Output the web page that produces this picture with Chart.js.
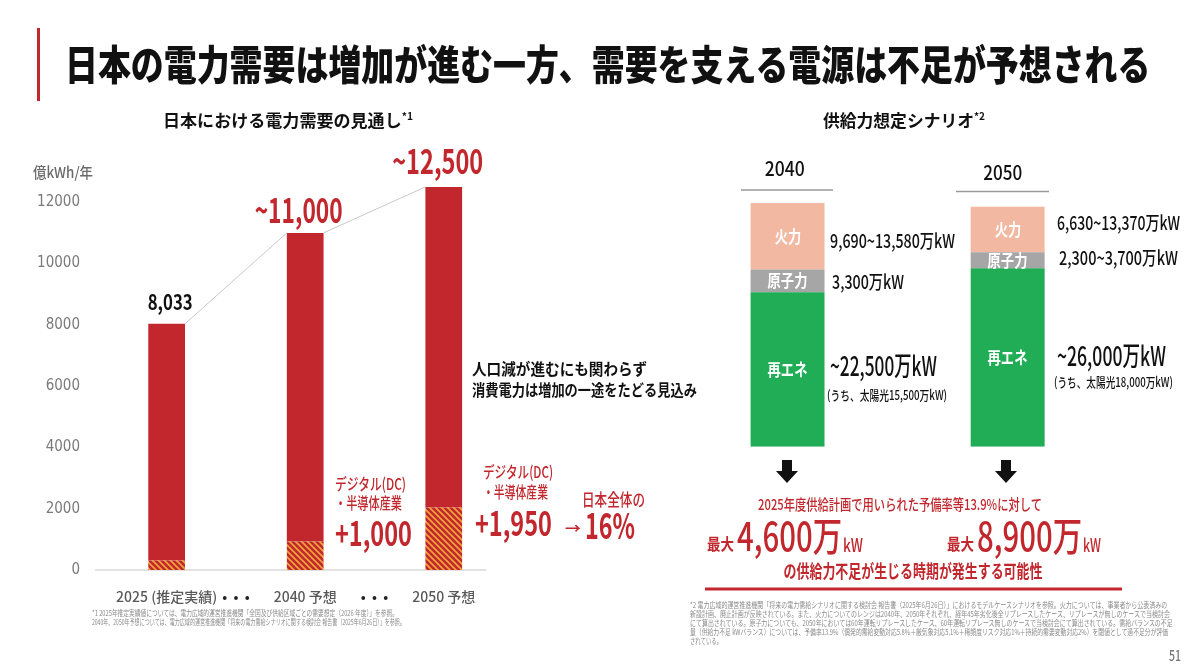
<!DOCTYPE html>
<html lang="ja"><head><meta charset="utf-8">
<script src="https://cdn.jsdelivr.net/npm/chart.js@4.4.1/dist/chart.umd.min.js"></script>
<style>
html,body{margin:0;padding:0;background:#fff;}
body{width:1200px;height:672px;position:relative;overflow:hidden;font-family:'Noto Sans CJK JP','Noto Sans',sans-serif;}
.t{position:absolute;white-space:nowrap;line-height:1;}
canvas{position:absolute;}
.sup{font-size:0.6em;vertical-align:0.65em;}
</style></head><body>
<div style="position:absolute;left:37px;top:28px;width:3px;height:73px;background:#C1272D"></div>
<canvas id="demand" width="500" height="631" style="left:0;top:0;width:500px;height:631px"></canvas>
<canvas id="supply" width="600" height="320" style="left:600px;top:150px;width:600px;height:320px"></canvas>
<svg width="1200" height="672" style="position:absolute;left:0;top:0;pointer-events:none">
  <line x1="741" y1="190" x2="833" y2="190" stroke="#9a9a9a" stroke-width="1.5"/>
  <line x1="956" y1="191.5" x2="1049" y2="191.5" stroke="#9a9a9a" stroke-width="1.5"/>
  <polygon points="782,460 792,460 792,471 798,471 787,483 776,471 782,471" fill="#111"/>
  <polygon points="1001,460 1011,460 1011,471 1017,471 1006,483 995,471 1001,471" fill="#111"/>
  <rect x="705" y="587.5" width="417" height="3" fill="#C1272D"/>
</svg>
<script>
// ---- data: 日本における電力需要の見通し (億kWh/年)
const demandYears = ['2025 (推定実績)', '2040 予想', '2050 予想'];
const demandTotal = [8033, 11000, 12500];
const dcDemand = [310, 930, 2040];
const demandForecast = [false, true, true];
const yTicks = [0, 2000, 4000, 6000, 8000, 10000, 12000];
// ---- data: 供給力想定シナリオ (万kW)
const supplyYears = ['2040', '2050'];
const thermalLow = [9690, 6630];
const thermalHigh = [13580, 13370];
const nuclearLow = [3300, 2300];
const nuclearHigh = [3300, 3700];
const renewable = [22500, 26000];
const solar = [15500, 18000];
const segNames = ['再エネ', '原子力', '火力'];

const RED = '#C1272D';
const fmt = n => n.toLocaleString('en-US');

function addText(html, x, y, size, opts) {
  opts = opts || {};
  const el = document.createElement('div');
  el.className = 't';
  el.innerHTML = html;
  el.style.fontSize = size + 'px';
  el.style.fontWeight = opts.weight || 700;
  el.style.color = opts.color || '#111';
  document.body.appendChild(el);
  const nat = el.getBoundingClientRect().width;
  const s = opts.w ? opts.w / nat : (opts.sx || 0.8);
  const a = opts.align || 'l';
  el.style.left = (a === 'l' ? x : a === 'c' ? x - nat / 2 : x - nat) + 'px';
  el.style.top = (y - 0.56 * size) + 'px';
  el.style.transformOrigin = (a === 'l' ? 'left' : a === 'c' ? 'center' : 'right') + ' center';
  el.style.transform = 'scaleX(' + s.toFixed(3) + ')';
  return el;
}

function hatch() {
  const c = document.createElement('canvas');
  c.width = c.height = 6;
  const g = c.getContext('2d');
  g.fillStyle = RED; g.fillRect(0, 0, 6, 6);
  g.strokeStyle = '#F2A43A'; g.lineWidth = 1.7;
  g.beginPath();
  g.moveTo(-1, -1); g.lineTo(7, 7);
  g.moveTo(-1, 5); g.lineTo(1, 7);
  g.moveTo(5, -1); g.lineTo(7, 1);
  g.stroke();
  return g.createPattern(c, 'repeat');
}

// ---- left chart
const GAP = '•  •  •';
const labels = [], dcData = [], restData = [];
demandYears.forEach((yr, i) => {
  if (i > 0) { labels.push(GAP); dcData.push(null); restData.push(null); }
  labels.push(yr); dcData.push(dcDemand[i]); restData.push(demandTotal[i] - dcDemand[i]);
});

const demandDecor = {
  id: 'demandDecor',
  beforeDatasetsDraw(chart) {
    const ctx = chart.ctx, a = chart.chartArea, y0 = chart.scales.y.getPixelForValue(0);
    ctx.save(); ctx.strokeStyle = '#D9D9D9'; ctx.lineWidth = 1.5;
    ctx.beginPath(); ctx.moveTo(a.left - 37, y0); ctx.lineTo(a.right + 8, y0); ctx.stroke();
    ctx.restore();
  },
  afterDatasetsDraw(chart) {
    const ctx = chart.ctx;
    const bars = chart.getDatasetMeta(1).data.filter((b, i) => restData[i] != null);
    ctx.save(); ctx.strokeStyle = '#C8C8C8'; ctx.lineWidth = 1;
    for (let i = 0; i < bars.length - 1; i++) {
      const b = bars[i], n = bars[i + 1];
      ctx.beginPath(); ctx.moveTo(b.x + b.width / 2, b.y); ctx.lineTo(n.x - n.width / 2, n.y); ctx.stroke();
    }
    ctx.restore();
  }
};

const demandChart = new Chart(document.getElementById('demand'), {
  type: 'bar',
  data: { labels, datasets: [
    { label: 'デジタル(DC)・半導体産業', data: dcData, backgroundColor: hatch(), barPercentage: 0.53, categoryPercentage: 1 },
    { label: 'その他', data: restData, backgroundColor: RED, barPercentage: 0.53, categoryPercentage: 1 }
  ]},
  options: {
    responsive: false, animation: false, events: [],
    layout: { padding: { left: 0, right: 21.6, top: 171.6, bottom: 5.5 } },
    plugins: { legend: { display: false }, tooltip: { enabled: false } },
    scales: {
      x: { stacked: true, grid: { display: false, drawTicks: false }, border: { display: false },
           ticks: { padding: 18, autoSkip: false, maxRotation: 0,
                    color: c => labels[c.index] === GAP ? '#222' : '#595959',
                    font: { family: "'Noto Sans CJK JP', sans-serif", size: 14, weight: 500 } },
           afterFit: s => { s.height = 42.5; } },
      y: { stacked: true, min: 0, max: 13000, grid: { display: false, drawTicks: false }, border: { display: false },
           ticks: { padding: 52, color: '#7a7a7a', callback: v => String(v),
                    font: { family: "'Liberation Sans Narrow','DejaVu Sans Condensed',Roboto,sans-serif", size: 15 } },
           afterBuildTicks: s => { s.ticks = yTicks.map(v => ({ value: v })); },
           afterFit: s => { s.width = 132; } }
    }
  },
  plugins: [demandDecor]
});

// ---- right chart
const supplyTotals = supplyYears.map((y, i) => renewable[i] + nuclearLow[i] + thermalLow[i]);
const supplyChart = new Chart(document.getElementById('supply'), {
  type: 'bar',
  data: { labels: supplyYears, datasets: [
    { label: segNames[0], data: renewable, backgroundColor: '#21AD55' },
    { label: segNames[1], data: nuclearLow, backgroundColor: '#A6A6A6' },
    { label: segNames[2], data: thermalLow, backgroundColor: '#F3B8A1' }
  ]},
  options: {
    responsive: false, animation: false, events: [],
    layout: { padding: { left: 77.5, right: 82.3, top: 53, bottom: 23.3 } },
    datasets: { bar: { barPercentage: 0.336, categoryPercentage: 1 } },
    plugins: { legend: { display: false }, tooltip: { enabled: false } },
    scales: { x: { display: false, stacked: true }, y: { display: false, stacked: true, min: 0, max: Math.max(...supplyTotals) } }
  }
});

// ---- texts
addText('日本の電力需要は増加が進む一方、需要を支える電源は不足が予想される', 65, 65, 41, { w: 1085, weight: 900, color: '#111' });
addText('日本における電力需要の見通し<span class="sup">*1</span>', 163, 121, 17, { w: 250 });
addText('供給力想定シナリオ<span class="sup">*2</span>', 823, 121, 17, { w: 162 });
addText('億kWh/年', 33, 172.5, 15, { w: 60, color: '#6b6b6b', weight: 500 });

// value labels above demand bars
const topMeta = demandChart.getDatasetMeta(1);
const vlW = [45, 88, 91], vlDx = [4, -6, -6], vlDy = [-21.5, -22, -24.7];
demandYears.forEach((yr, i) => {
  const el = topMeta.data[i * 2];
  const t = (demandForecast[i] ? '~' : '') + fmt(demandTotal[i]);
  addText(t, el.x + vlDx[i], el.y + vlDy[i], demandForecast[i] ? 34 : 21,
          { align: 'c', w: vlW[i], color: demandForecast[i] ? RED : '#111' });
});

addText('人口減が進むにも関わらず', 472, 369, 16, { w: 175 });
addText('消費電力は増加の一途をたどる見込み', 472, 390, 16, { w: 225 });

addText('デジタル(DC)', 335, 484, 16, { w: 71, color: RED, weight: 500 });
addText('・半導体産業', 335, 503, 16, { w: 67, color: RED, weight: 500 });
addText('+1,000', 335, 534, 33, { w: 77, color: RED });
addText('デジタル(DC)', 483, 472, 16, { w: 70, color: RED, weight: 500 });
addText('・半導体産業', 483, 491.5, 16, { w: 65, color: RED, weight: 500 });
addText('+1,950', 475, 524, 33, { w: 77, color: RED });
addText('→', 565, 528, 14, { w: 16, color: RED });
addText('日本全体の', 582, 500, 17, { w: 63, color: RED, weight: 500 });
addText('16%', 585, 526, 35, { w: 50, color: RED });

addText('*1 2025年推定実績値については、電力広域的運営推進機関「全国及び供給区域ごとの需要想定（2026 年度）」を参照。', 92, 613, 8, { w: 306, color: '#8a8a8a', weight: 400 });
addText('2040年、2050年予想については、電力広域的運営推進機関「将来の電力需給シナリオに関する検討会 報告書（2025年6月26日）」を参照。', 92, 622.5, 8, { w: 313, color: '#8a8a8a', weight: 400 });

// supply chart labels
const cLeft = 600, cTop = 150;
addText(supplyYears[0], 785, 169, 20, { align: 'c', w: 40, weight: 500 });
addText(supplyYears[1], 1003, 173, 20, { align: 'c', w: 39, weight: 500 });
[0, 1, 2].forEach(d => {
  supplyChart.getDatasetMeta(d).data.forEach(el => {
    addText(segNames[d], cLeft + el.x, cTop + (el.y + el.base) / 2, 17, { align: 'c', sx: 0.78, color: '#fff' });
  });
});
const rng = (a, b) => a === b ? fmt(a) : fmt(a) + '~' + fmt(b);
const thermY = [240.5, 222.5], nucY = [282, 257.5], renY = [366, 356], solY = [395, 382];
const lx = [830, 1057];
const thermW = [125, 123], nucW = [72, 119], renW = [107, 109], solW = [120, 119];
supplyYears.forEach((yr, i) => {
  addText(rng(thermalLow[i], thermalHigh[i]) + '万kW', lx[i], thermY[i], 19, { w: thermW[i], weight: 500 });
  addText(rng(nuclearLow[i], nuclearHigh[i]) + '万kW', lx[i] + 2, nucY[i], 19, { w: nucW[i], weight: 500 });
  addText('~' + fmt(renewable[i]) + '万kW', lx[i], renY[i], 27, { w: renW[i], weight: 500 });
  addText('(うち、太陽光' + fmt(solar[i]) + '万kW)', lx[i] - 3, solY[i], 13, { w: solW[i], weight: 500 });
});

addText('2025年度供給計画で用いられた予備率等13.9%に対して', 900, 504, 15, { align: 'c', w: 284, color: RED, weight: 500 });
addText('最大', 707, 544, 16, { w: 27, color: RED });
addText('4,600万', 737, 536, 40, { w: 105, color: RED, weight: 500 });
addText('kW', 843, 545, 18, { w: 20, color: RED, weight: 500 });
addText('最大', 947, 544, 16, { w: 27, color: RED });
addText('8,900万', 977, 536, 40, { w: 105, color: RED, weight: 500 });
addText('kW', 1083, 545, 18, { w: 18, color: RED, weight: 500 });
addText('の供給力不足が生じる時期が発生する可能性', 913, 571, 18, { align: 'c', w: 259, color: RED });

const fn2 = [
  '*2 電力広域的運営推進機関「将来の電力需給シナリオに関する検討会 報告書（2025年6月26日）」におけるモデルケースシナリオを参照。火力については、事業者から公表済みの',
  '新設計画、廃止計画が反映されている。また、火力についてのレンジは2040年、2050年それぞれ、経年45年劣化後全リプレースしたケース、リプレースが無しのケースで当検討会',
  'にて算出されている。原子力についても、2050年においては60年運転リプレースしたケース、60年運転リプレース無しのケースで当検討会にて算出されている。需給バランスの不足',
  '量（供給力不足 kWバランス）については、予備率13.9%（偶発的需給変動対応5.8%＋厳気象対応5.1%＋稀頻度リスク対応1%＋持続的需要変動対応2%）を閾値として過不足分が評価',
  'されている。'
];
const fn2W = [477, 480, 483, 478, 32];
fn2.forEach((l, i) => addText(l, 690, 605.5 + i * 9.1, 8, { w: fn2W[i], color: '#8a8a8a', weight: 400 }));
addText('51', 1181, 656, 14, { align: 'r', w: 12, color: '#777', weight: 500 });
</script>
</body></html>
